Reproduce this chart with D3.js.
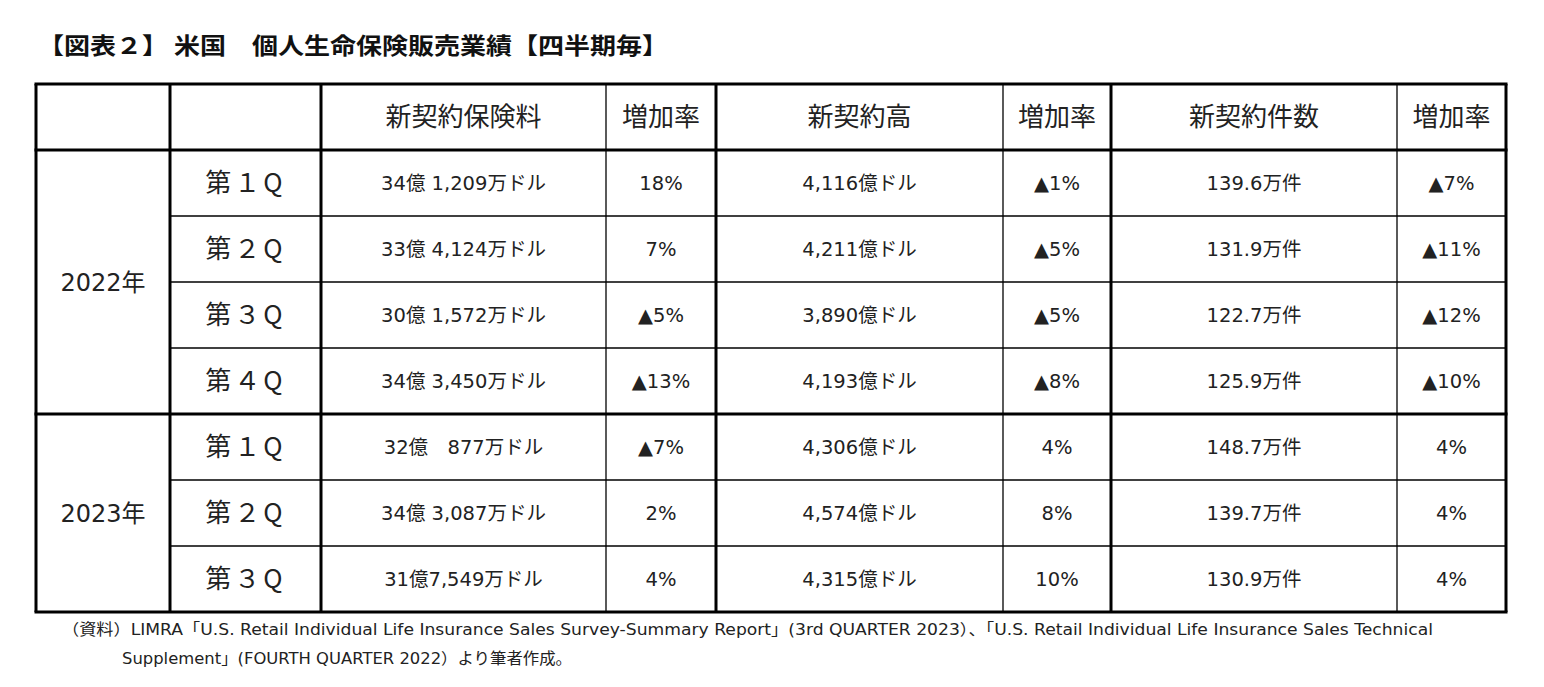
<!DOCTYPE html><html><head><meta charset="utf-8">
<script src="https://cdn.jsdelivr.net/npm/d3@7"></script>
<style>body{margin:0;background:#fff}</style></head><body>
<svg id="c" width="1544" height="687"></svg>
<script>
const title = "【図表２】 米国　個人生命保険販売業績【四半期毎】";
const headers = ["", "", "新契約保険料", "増加率", "新契約高", "増加率", "新契約件数", "増加率"];
const years = ["2022年", "2023年"];
const yearRows = [4, 3];
const quarters = ["第１Q","第２Q","第３Q","第４Q","第１Q","第２Q","第３Q"];
const premium = ["34億 1,209万ドル","33億 4,124万ドル","30億 1,572万ドル","34億 3,450万ドル","32億　877万ドル","34億 3,087万ドル","31億7,549万ドル"];
const premiumRate = ["18%","7%","▲5%","▲13%","▲7%","2%","4%"];
const amount = ["4,116億ドル","4,211億ドル","3,890億ドル","4,193億ドル","4,306億ドル","4,574億ドル","4,315億ドル"];
const amountRate = ["▲1%","▲5%","▲5%","▲8%","4%","8%","10%"];
const count = ["139.6万件","131.9万件","122.7万件","125.9万件","148.7万件","139.7万件","130.9万件"];
const countRate = ["▲7%","▲11%","▲12%","▲10%","4%","4%","4%"];
const note1 = "（資料）LIMRA「U.S. Retail Individual Life Insurance Sales Survey-Summary Report」(3rd QUARTER 2023）、「U.S. Retail Individual Life Insurance Sales Technical";
const note2 = "Supplement」(FOURTH QUARTER 2022）より筆者作成。";

const svg = d3.select("#c");
const font = "'DejaVu Sans','Noto Sans CJK JP',sans-serif";
const cjk = "'Noto Sans CJK JP','DejaVu Sans',sans-serif";
const colX = [36,170,321,606,716,1003,1111,1397,1506];
const thickCols = new Set([0,1,2,4,6,8]);
const rowY = d3.scaleLinear().domain([0,8]).range([84,612]);
const rowsData = quarters.map((q,i)=>[q,premium[i],premiumRate[i],amount[i],amountRate[i],count[i],countRate[i]]);

svg.append("text").attr("x",38).attr("y",54).attr("font-family",cjk).attr("font-weight","bold")
  .attr("font-size",23).attr("fill","#111").attr("textLength",630).attr("lengthAdjust","spacingAndGlyphs").text(title);

const cx = i => (colX[i]+colX[i+1])/2;
const g = svg.append("g").attr("font-family",font).attr("fill","#222").attr("text-anchor","middle");
g.selectAll("text.h").data(headers).join("text").attr("x",(d,i)=>cx(i)).attr("y",rowY(0.5)).attr("dy","0.36em")
  .attr("font-family",cjk).attr("font-size",26).text(d=>d);
rowsData.forEach((r,ri)=>{
  g.selectAll(null).data(r).join("text").attr("x",(d,i)=>cx(i+1)).attr("y",rowY(ri+1.5)).attr("dy","0.36em")
   .attr("font-family",(d,i)=>i===0?cjk:font).attr("font-size",(d,i)=>i===0?26:19.5).attr("letter-spacing",(d,i)=>i===0?3:0).text(d=>d);
});
let start=1;
years.forEach((y,i)=>{
  g.append("text").attr("x",cx(0)).attr("y",rowY(start+yearRows[i]/2)).attr("dy","0.36em").attr("font-size",24).text(y);
  start+=yearRows[i];
});

const lines = svg.append("g").attr("stroke","#000");
for(let r=2;r<8;r++){ if(r===5) continue;
  lines.append("line").attr("x1",colX[1]).attr("x2",colX[8]).attr("y1",rowY(r)).attr("y2",rowY(r)).attr("stroke-width",1.3);}
[0,1,5,8].forEach(r=>lines.append("line").attr("x1",colX[0]-1.5).attr("x2",colX[8]+1.5).attr("y1",rowY(r)).attr("y2",rowY(r)).attr("stroke-width",3));
colX.forEach((x,i)=>lines.append("line").attr("x1",x).attr("x2",x).attr("y1",rowY(0)).attr("y2",rowY(8))
  .attr("stroke-width",thickCols.has(i)?3:1.3));

svg.append("text").attr("x",62).attr("y",635).attr("font-family",font).attr("font-size",15.5).attr("fill","#222")
  .attr("textLength",1371).attr("lengthAdjust","spacingAndGlyphs").text(note1);
svg.append("text").attr("x",122).attr("y",664).attr("font-family",font).attr("font-size",15.5).attr("fill","#222")
  .attr("textLength",450).attr("lengthAdjust","spacingAndGlyphs").text(note2);
</script></body></html>
